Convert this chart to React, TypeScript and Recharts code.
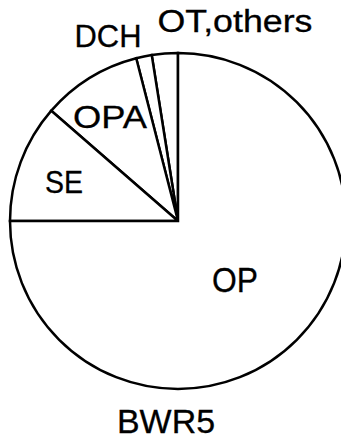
import React from "react";
import { PieChart, Pie, Cell } from "recharts";

// slices run counter-clockwise from 12 o'clock
const categories = ["OT,others", "DCH", "OPA", "SE", "OP"];
const shares = [2.5, 1.5, 9.6, 11.4, 75];
const chartTitle = "BWR5";

const data = categories.map((name, i) => ({ name, value: shares[i] }));

// label baseline offsets from the pie centre, plus font size / stretched width
const labelLayout: Record<string, { dx: number; dy: number; size: number; len: number }> = {
  "OT,others": { dx: 57, dy: -189, size: 31, len: 155 },
  DCH: { dx: -70, dy: -174, size: 31, len: 67 },
  OPA: { dx: -68, dy: -93, size: 31, len: 74 },
  SE: { dx: -114, dy: -28, size: 31, len: 38 },
  OP: { dx: 57, dy: 71, size: 35, len: 46 },
};

const FONT = "'Liberation Sans', Arial, sans-serif";

const renderLabel = (props: any) => {
  const { cx, cy, index } = props;
  const name = categories[index];
  const l = labelLayout[name];
  return (
    <text
      key={name}
      x={cx + l.dx}
      y={cy + l.dy}
      textAnchor="middle"
      fontFamily={FONT}
      fontSize={l.size}
      textLength={l.len}
      lengthAdjust="spacingAndGlyphs"
      fill="#000"
      stroke="#000"
      strokeWidth={0.3}
    >
      {name}
    </text>
  );
};

export default function App() {
  return (
    <div style={{ position: "absolute", left: 0, top: 0, width: 341, height: 441, background: "#fff" }}>
      <PieChart width={341} height={441} margin={{ top: 0, right: 0, bottom: 0, left: 0 }}>
        <Pie
          data={data}
          dataKey="value"
          nameKey="name"
          cx={178}
          cy={221}
          outerRadius={168}
          startAngle={90}
          endAngle={450}
          stroke="#000"
          strokeWidth={2.5}
          label={renderLabel}
          labelLine={false}
          isAnimationActive={false}
        >
          {data.map((d) => (
            <Cell key={d.name} fill="#fff" />
          ))}
        </Pie>
        <text
          x={166}
          y={433}
          textAnchor="middle"
          fontFamily={FONT}
          fontSize={33}
          textLength={98}
          lengthAdjust="spacingAndGlyphs"
          fill="#000"
          stroke="#000"
          strokeWidth={0.3}
        >
          {chartTitle}
        </text>
      </PieChart>
    </div>
  );
}
